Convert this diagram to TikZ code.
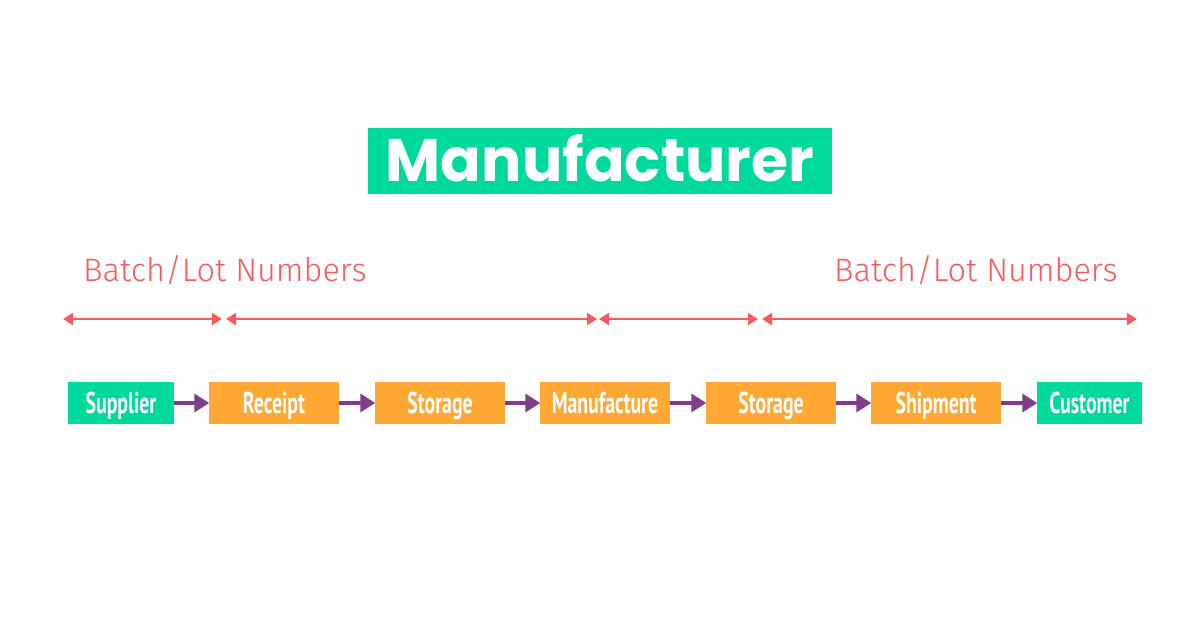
\documentclass[tikz,border=0pt]{standalone}
\usepackage{fontspec}
\setmainfont{Fira Sans}
\newfontfamily\titlefont{Poppins}[UprightFont=* Bold]
\newfontfamily\labelfont{Fira Sans}[UprightFont=* Light]
\newfontfamily\boxfont{PT Sans}[UprightFont=* Bold, FakeStretch=0.66]
\usetikzlibrary{arrows.meta}
\definecolor{mgreen}{HTML}{00D99C}
\definecolor{morange}{HTML}{FFA833}
\definecolor{mred}{HTML}{F65B5B}
\definecolor{mpurple}{HTML}{823C8C}
\tikzset{
  stepbox/.style={rectangle, inner sep=0pt, minimum height=42pt, text=white,
    text height=21pt, text depth=0pt,
    font=\boxfont\fontsize{30}{30}\selectfont},
  greenbox/.style={stepbox, fill=mgreen},
  orangebox/.style={stepbox, fill=morange},
  flow/.style={draw=mpurple, line width=3.5pt, -{Triangle[length=15pt,width=18pt]}, shorten >=-0.5pt},
  span/.style={draw=mred, line width=2pt, {Triangle[length=10pt,width=12pt]}-{Triangle[length=10pt,width=12pt]}},
  lotlabel/.style={text=mred, font=\labelfont\fontsize{32.5}{32.5}\selectfont, inner sep=0pt}
}
\begin{document}
\begin{tikzpicture}[x=1pt,y=-1pt]
\useasboundingbox (0,0) rectangle (1200,630);
\node[fill=mgreen, minimum width=464pt, minimum height=66pt, inner sep=0pt, text=white,
  text height=41pt, text depth=0pt,
  font=\titlefont\fontsize{60}{60}\selectfont] (title) at (600,161) {Manufacturer};
\node[lotlabel, anchor=base west] (lotL) at (83,281) {Batch/Lot Numbers};
\node[lotlabel, anchor=base west] (lotR) at (834,281) {Batch/Lot Numbers};
\coordinate (s1a) at (63,319);
\coordinate (s1b) at (222,319);
\coordinate (s2a) at (226,319);
\coordinate (s2b) at (597,319);
\coordinate (s3a) at (599,319);
\coordinate (s3b) at (758,319);
\coordinate (s4a) at (762,319);
\coordinate (s4b) at (1137,319);
\draw[span] (s1a) -- (s1b);
\draw[span] (s2a) -- (s2b);
\draw[span] (s3a) -- (s3b);
\draw[span] (s4a) -- (s4b);
\node[greenbox, minimum width=106pt] (supplier) at (121,403) {Supplier};
\node[orangebox, minimum width=130pt] (receipt) at (274,403) {Receipt};
\node[orangebox, minimum width=130pt] (storage1) at (440,403) {Storage};
\node[orangebox, minimum width=130pt] (manufacture) at (605,403) {Manufacture};
\node[orangebox, minimum width=130pt] (storage2) at (771,403) {Storage};
\node[orangebox, minimum width=130pt] (shipment) at (936,403) {Shipment};
\node[greenbox, minimum width=105pt] (customer) at (1089.5,403) {Customer};
\draw[flow] (supplier) -- (receipt);
\draw[flow] (receipt) -- (storage1);
\draw[flow] (storage1) -- (manufacture);
\draw[flow] (manufacture) -- (storage2);
\draw[flow] (storage2) -- (shipment);
\draw[flow] (shipment) -- (customer);
\end{tikzpicture}
\end{document}
